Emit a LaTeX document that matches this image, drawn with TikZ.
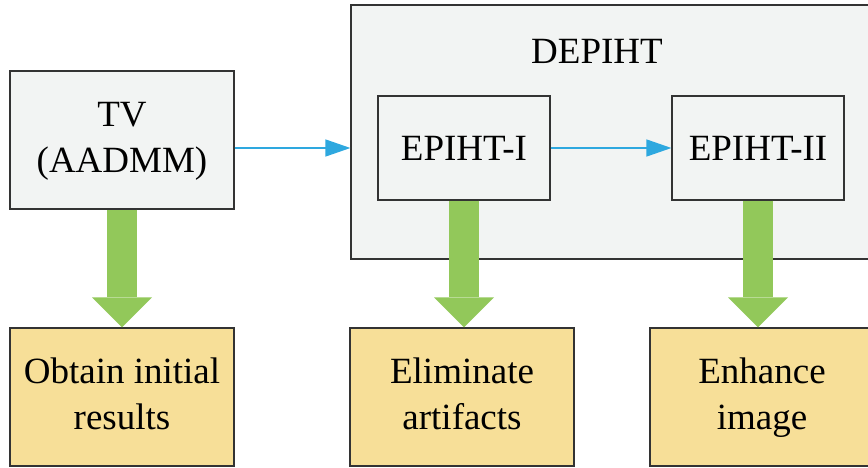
\documentclass[tikz,border=0pt]{standalone}
\usepackage{fontspec}
\setmainfont{Liberation Serif}
\usetikzlibrary{arrows.meta}
\definecolor{boxgray}{HTML}{F2F4F3}
\definecolor{boxyellow}{HTML}{F7DF98}
\definecolor{flowblue}{HTML}{2EA8DF}
\definecolor{stepgreen}{HTML}{92C85A}
\definecolor{edge}{HTML}{333333}

\begin{document}
\begin{tikzpicture}[x=1pt,y=-1pt,
		every node/.style = {font=\fontsize{37}{46}\selectfont, align=center, inner sep=0pt},
		method/.style = {draw=edge, line width=1.2pt, fill=boxgray},
		result/.style = {draw=edge, line width=1.2pt, fill=boxyellow, minimum width=224pt, minimum height=138pt},
		flow/.style = {flowblue, line width=1.3pt, -{Triangle[length=25pt, width=17pt]}},
		outcome/.style = {stepgreen, line width=30pt, -{Triangle[length=30pt, width=60pt, line width=0pt]}}]
		\useasboundingbox (0, 0) rectangle (868, 468);
		%%%%%%%%%%%%%
		\node[method, minimum width=524pt, minimum height=254pt] (depiht) at (613, 132) {};
		\node (title) at (597, 51) {DEPIHT};
		\node[method, minimum width=224pt, minimum height=138pt] (tv) at (122, 140) {\strut TV\\(AADMM)\strut};
		\node[method, minimum width=172pt, minimum height=104pt] (epihtI) at (464, 148) {EPIHT-I};
		\node[method, minimum width=172pt, minimum height=104pt] (epihtII) at (758, 148) {EPIHT-II};
		%%%%%%%%%%%%%
		\node[result] (initial) at (122, 397) {\strut Obtain initial\\results\strut};
		\node[result] (artifacts) at (462, 397) {\strut Eliminate\\artifacts\strut};
		\node[result] (enhance) at (762, 397) {\strut Enhance\\image\strut};
		%%%%%%%%%%%%%
		\draw [flow] (tv.east |- epihtI.west) to (depiht.west |- epihtI.west);
		\draw [flow] (epihtI.east) to (epihtII.west);
		\draw [outcome] (tv.south) to (initial.north);
		\draw [outcome] (epihtI.south) to (epihtI.south |- artifacts.north);
		\draw [outcome] (epihtII.south) to (epihtII.south |- enhance.north);
	\end{tikzpicture}
\end{document}
